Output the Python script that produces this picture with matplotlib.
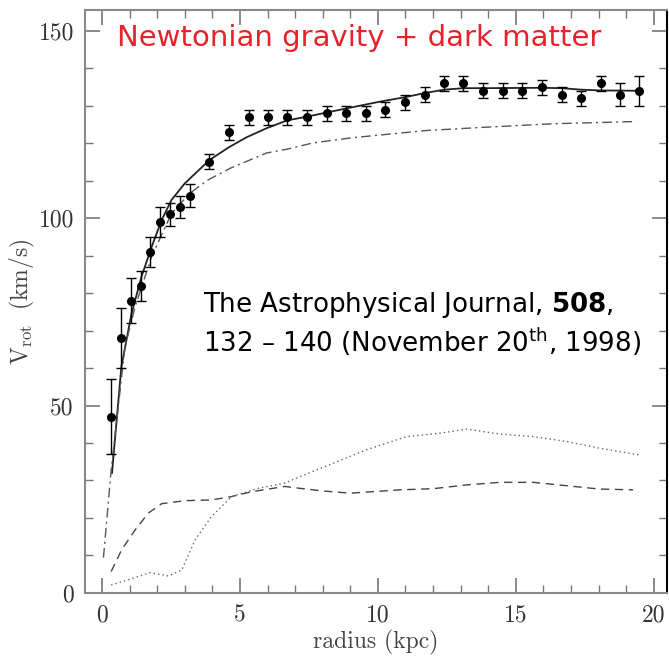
import matplotlib
matplotlib.use('Agg')
import matplotlib.pyplot as plt
from matplotlib.ticker import MultipleLocator

# observed rotation velocities
r_obs = [0.33, 0.69, 1.05, 1.41, 1.75, 2.11, 2.46, 2.83, 3.19, 3.89, 4.59,
         5.31, 6.01, 6.71, 7.43, 8.14, 8.84, 9.57, 10.25, 10.99, 11.69, 12.4,
         13.1, 13.82, 14.54, 15.24, 15.95, 16.67, 17.37, 18.08, 18.78, 19.48]
v_obs = [47, 68, 78, 82, 91, 99, 101, 103, 106, 115, 123,
         127, 127, 127, 127, 128, 128, 128, 129, 131, 133, 136,
         136, 134, 134, 134, 135, 133, 132, 136, 133, 134]
v_err = [10, 8, 6, 4, 4, 4, 3, 3, 3, 2, 2,
         2, 2, 2, 2, 2, 2, 2, 2, 2, 2, 2,
         2, 2, 2, 2, 2, 2, 2, 2, 3, 4]

# total model
r_tot = [0.36, 0.7, 1.07, 1.43, 1.8, 2.16, 2.52, 3.0, 3.89, 4.59, 5.24, 5.96,
         6.71, 7.43, 8.14, 8.86, 10.07, 10.99, 11.7, 12.4, 13.1, 13.8, 15.95,
         16.67, 17.37, 18.08, 19.48]
v_tot = [32, 60.4, 74.6, 84.4, 92.4, 99.5, 104.9, 109.3, 115.5, 118.9, 121.6,
         124.0, 126.1, 127.1, 128.2, 129.3, 131.1, 132.3, 133.4, 134.3, 134.7,
         134.7, 134.8, 134.7, 134.3, 134.1, 134.0]

# dark halo
r_halo = [0.05, 0.33, 0.83, 1.2, 1.8, 2.52, 3.19, 3.84, 4.64, 5.96, 6.69, 7.66,
          8.99, 10.07, 11.76, 13.94, 16.35, 19.37]
v_halo = [9.4, 32.8, 65.7, 76.4, 89.8, 101.3, 106.7, 110.2, 113.3, 117.4,
          118.4, 120.1, 121.4, 122.2, 123.4, 124.3, 125.2, 125.8]

# stellar disk
r_disk = [0.33, 0.71, 1.2, 1.68, 2.16, 3.0, 3.97, 4.7, 5.42, 6.63, 7.17, 8.0,
          8.99, 10.8, 12.0, 13.2, 14.42, 15.63, 16.84, 18.04, 19.25]
v_disk = [5.7, 11.5, 16.8, 21.3, 23.8, 24.6, 24.8, 25.7, 27.0, 28.4, 27.9,
          27.2, 26.6, 27.5, 27.8, 28.8, 29.5, 29.5, 28.6, 27.7, 27.5]

# gas
r_gas = [0.33, 0.95, 1.74, 2.4, 2.89, 3.37, 3.97, 4.7, 5.66, 6.63, 7.17, 8.38,
         9.59, 11.04, 12.25, 13.21, 14.42, 15.63, 16.84, 18.04, 19.49]
v_gas = [2.1, 3.5, 5.4, 4.5, 6.1, 14.1, 20.4, 25.7, 27.9, 29.3, 31.0, 34.6,
         38.2, 41.7, 42.6, 43.7, 42.4, 41.7, 40.4, 38.6, 36.8]

fig = plt.figure(figsize=(6.69, 6.58), dpi=100)
ax = fig.add_axes([0.127, 0.099, 0.870, 0.886])

ax.plot(r_tot, v_tot, color='#222222', lw=1.3, ls='-')
ax.plot(r_halo, v_halo, color='#555555', lw=1.0, dashes=[7, 3, 1.5, 3])
ax.plot(r_disk, v_disk, color='#444444', lw=1.0, dashes=[6, 4])
ax.plot(r_gas, v_gas, color='#666666', lw=1.0, dashes=[1, 2.2])
ax.errorbar(r_obs, v_obs, yerr=v_err, fmt='o', color='black', ms=5.5,
            elinewidth=1.0, capsize=3.5, capthick=1.0)

ax.set_xlim(-0.62, 20.48)
ax.set_ylim(0, 155.6)
ax.xaxis.set_major_locator(MultipleLocator(5))
ax.xaxis.set_minor_locator(MultipleLocator(1))
ax.yaxis.set_major_locator(MultipleLocator(50))
ax.yaxis.set_minor_locator(MultipleLocator(10))
ax.tick_params(which='both', direction='in', top=True, right=True,
               color='#777777', labelcolor='#333333', labelsize=17)
ax.tick_params(which='major', length=11, width=1.2, pad=8)
ax.tick_params(which='minor', length=6, width=1.0)
for lab in ax.get_xticklabels() + ax.get_yticklabels():
    lab.set_fontfamily('cmr10')
for side in ['left', 'bottom', 'top']:
    ax.spines[side].set_color('#888888')
    ax.spines[side].set_linewidth(1.5)
ax.spines['right'].set_color('black')
ax.spines['right'].set_linewidth(1.5)

ax.set_xlabel('radius (kpc)', fontsize=17, family='cmr10', color='#444444',
              labelpad=3)
ax.set_ylabel(r'$\mathrm{V_{rot}}\ \ \mathrm{(km/s)}$', fontsize=17,
              color='#444444', math_fontfamily='cm')
ax.yaxis.set_label_coords(-0.083, 0.5)

ax.text(0.055, 0.952, 'Newtonian gravity + dark matter', transform=ax.transAxes,
        fontsize=21, color='#e8212b', family='DejaVu Sans', va='center')
ax.text(0.203, 0.461,
        'The Astrophysical Journal, $\\mathbf{508}$,\n'
        '132 \u2013 140 (November 20$^{\\mathrm{th}}$, 1998)',
        transform=ax.transAxes, fontsize=18.8, color='black',
        family='DejaVu Sans', math_fontfamily='dejavusans',
        va='center', linespacing=1.2)

fig.savefig('out.png', dpi=100)
